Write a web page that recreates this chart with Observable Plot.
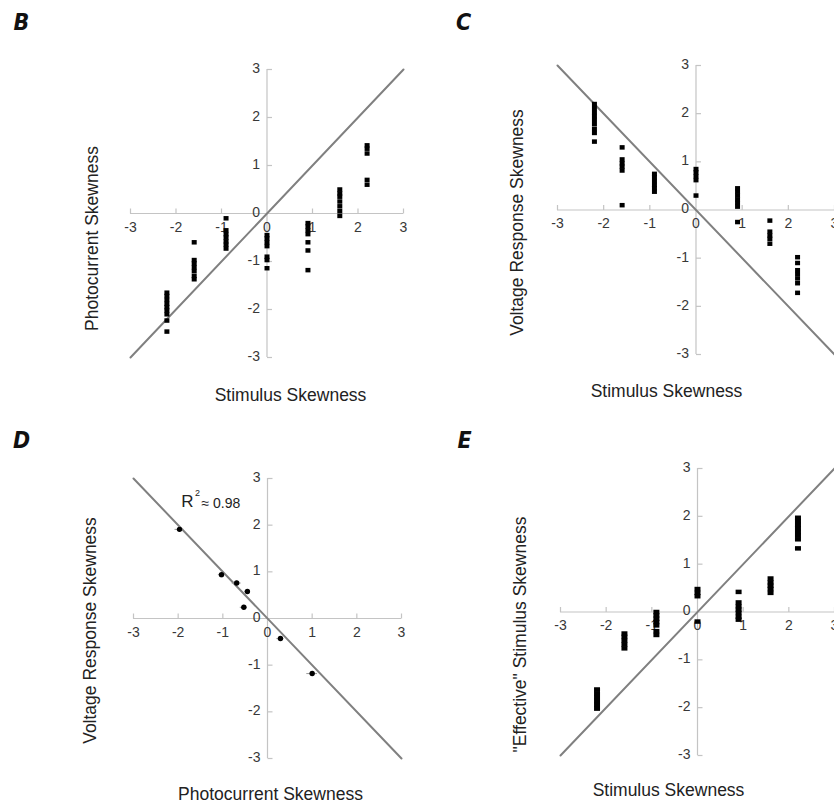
<!DOCTYPE html>
<html><head><meta charset="utf-8">
<script src="https://cdn.jsdelivr.net/npm/d3@7"></script>
<script src="https://cdn.jsdelivr.net/npm/@observablehq/plot@0.6"></script>
<style>
html,body{margin:0;padding:0;background:#fff;overflow:hidden;width:834px;height:806px}
#wrap{position:relative;width:834px;height:806px;overflow:hidden}
.panel{position:absolute}
.panel svg{overflow:visible}
</style></head><body><div id="wrap"></div>
<script>
// ---- data ----
const ticks = [-3, -2, -1, 0, 1, 2, 3];
const tickLabels = ["-3", "-2", "-1", "0", "1", "2", "3"];
const stimX = [-2.2, -1.6, -0.9, 0, 0.9, 1.6, 2.2];
const diagX = [-3, 3];
const diagUp = [-3, 3];
const diagDown = [3, -3];

// Panel B: photocurrent skewness per stimulus skewness
const bY = [
  [-1.65, -1.72, -1.8, -1.88, -1.95, -2.02, -2.1, -2.23, -2.46],
  [-0.6, -0.97, -1.04, -1.12, -1.2, -1.3, -1.37],
  [-0.1, -0.35, -0.43, -0.5, -0.58, -0.65, -0.73],
  [-0.45, -0.52, -0.6, -0.68, -0.9, -0.97, -1.14],
  [-0.2, -0.27, -0.35, -0.43, -0.6, -0.77, -1.18],
  [0.5, 0.42, 0.35, 0.25, 0.15, 0.05, -0.05],
  [1.42, 1.35, 1.25, 0.7, 0.6]
];
// Panel C: voltage response skewness per stimulus skewness
const cY = [
  [2.2, 2.12, 2.03, 1.95, 1.87, 1.78, 1.68, 1.6, 1.42],
  [1.3, 1.05, 0.97, 0.9, 0.82, 0.1],
  [0.75, 0.68, 0.6, 0.52, 0.45, 0.38],
  [0.85, 0.78, 0.7, 0.62, 0.3],
  [0.45, 0.38, 0.3, 0.22, 0.15, 0.07, -0.25],
  [-0.22, -0.45, -0.53, -0.6, -0.7],
  [-0.98, -1.1, -1.25, -1.33, -1.42, -1.52, -1.72]
];
// Panel D: voltage response vs photocurrent skewness (means, errors)
const dX = [-1.97, -1.03, -0.69, -0.45, -0.53, 0.29, 1.0];
const dY = [1.91, 0.94, 0.76, 0.58, 0.24, -0.43, -1.18];
const dXerr = [0.1, 0.07, 0.1, 0.06, 0.08, 0.08, 0.12];
const dYerr = [0.06, 0.07, 0.04, 0.03, 0.04, 0.03, 0.04];
// Panel E: "effective" stimulus skewness per stimulus skewness
const eY = [
  [-1.62, -1.7, -1.78, -1.86, -1.94, -2.02],
  [-0.45, -0.52, -0.6, -0.68, -0.76],
  [0.0, -0.07, -0.14, -0.21, -0.28, -0.4, -0.48],
  [0.48, 0.4, 0.33, -0.2],
  [0.42, 0.2, 0.12, 0.05, -0.02, -0.1, -0.16],
  [0.7, 0.62, 0.55, 0.48, 0.4],
  [1.97, 1.9, 1.82, 1.75, 1.67, 1.6, 1.52, 1.33]
];

// ---- styling ----
const AXIS = "#c4c4c4";
const DIAG = "#808080";
const TICKTXT = "#383838";
const FONT = "Liberation Sans, Arial, sans-serif";
const LETTERFONT = "Liberation Sans Narrow, DejaVu Sans Condensed, Liberation Sans, sans-serif";

const tickUp = {draw(ctx) { ctx.moveTo(0, 0); ctx.lineTo(0, -5); }};
const tickRight = {draw(ctx) { ctx.moveTo(0, 0); ctx.lineTo(5, 0); }};
const sq = (w, h) => ({draw(ctx) { ctx.rect(-w / 2, -h / 2, w, h); }});

const flat = (ys) => stimX.flatMap((x, i) => ys[i].map(y => ({x, y})));

function label(str, at, fx, fy, opts) {
  return Plot.text([str], {
    frameAnchor: "top-left", text: d => d, dx: at[0] - fx, dy: at[1] - fy,
    textAnchor: "middle", lineAnchor: "middle", fontFamily: FONT, fill: "#222", ...opts
  });
}

function panel(cfg) {
  const {left, top, width, height, mL, mR, mT, mB, marks, letter, letterAt, yTitle, yTitleAt, xTitle, xTitleAt, extra} = cfg;
  const fx = left + mL, fy = top + mT; // page position of frame top-left
  const axisMarks = [
    Plot.ruleY([0], {x1: -3, x2: 3, stroke: AXIS, strokeWidth: 1.2}),
    Plot.ruleX([0], {y1: -3, y2: 3, stroke: AXIS, strokeWidth: 1.2}),
    Plot.dot(ticks.filter(d => d !== 0), {x: d => d, y: 0, symbol: tickUp, stroke: AXIS, fill: "none", strokeWidth: 1.2}),
    Plot.dot(ticks.filter(d => d !== 0), {x: 0, y: d => d, symbol: tickRight, stroke: AXIS, fill: "none", strokeWidth: 1.2}),
    Plot.text(ticks, {x: d => d, y: 0, text: (d, i) => tickLabels[i], dy: 14, fill: TICKTXT, fontSize: 14, fontFamily: FONT}),
    Plot.text(ticks, {x: 0, y: d => d, text: (d, i) => tickLabels[i], dx: -7, dy: -1, textAnchor: "end", fill: TICKTXT, fontSize: 14, fontFamily: FONT})
  ];
  const labelMarks = [
    label(letter, letterAt, fx, fy, {fontSize: 23, fontWeight: "bold", fontStyle: "italic", fontFamily: LETTERFONT, fill: "#111"}),
    label(yTitle, yTitleAt, fx, fy, {rotate: -90, fontSize: 17.5}),
    label(xTitle, xTitleAt, fx, fy, {fontSize: 17.5}),
    ...(extra ? extra(fx, fy) : [])
  ];
  const p = Plot.plot({
    width, height,
    marginLeft: mL, marginRight: mR, marginTop: mT, marginBottom: mB,
    x: {domain: [-3, 3], axis: null},
    y: {domain: [-3, 3], axis: null},
    style: {background: "transparent", overflow: "visible"},
    marks: [...axisMarks, ...marks, ...labelMarks]
  });
  const div = document.createElement("div");
  div.className = "panel";
  div.style.left = left + "px";
  div.style.top = top + "px";
  div.appendChild(p);
  document.getElementById("wrap").appendChild(div);
}

const diagLine = (ys) => Plot.line(diagX.map((x, i) => ({x, y: ys[i]})), {x: "x", y: "y", stroke: DIAG, strokeWidth: 2});
const squares = (ys, w, h) => Plot.dot(flat(ys), {x: "x", y: "y", symbol: sq(w, h), fill: "#000", stroke: "none"});

// B
panel({
  left: 0, top: 0, width: 417, height: 400, mL: 130, mR: 14, mT: 69, mB: 43,
  marks: [diagLine(diagUp), squares(bY, 5, 4.5)],
  letter: "B", letterAt: [21, 22],
  yTitle: "Photocurrent Skewness", yTitleAt: [92, 238],
  xTitle: "Stimulus Skewness", xTitleAt: [290, 395]
});
// C
panel({
  left: 417, top: 0, width: 417, height: 400, mL: 140, mR: 0, mT: 65, mB: 46,
  marks: [diagLine(diagDown), squares(cY, 5, 4.5)],
  letter: "C", letterAt: [463, 22],
  yTitle: "Voltage Response Skewness", yTitleAt: [517, 222],
  xTitle: "Stimulus Skewness", xTitleAt: [666, 391]
});
// D
const dData = dX.map((x, i) => ({x, y: dY[i], xe: dXerr[i], ye: dYerr[i]}));
panel({
  left: 0, top: 400, width: 417, height: 406, mL: 133, mR: 16, mT: 78, mB: 48,
  marks: [
    diagLine(diagDown),
    Plot.ruleY(dData, {y: "y", x1: d => d.x - d.xe, x2: d => d.x + d.xe, stroke: "#999", strokeWidth: 1}),
    Plot.ruleX(dData, {x: "x", y1: d => d.y - d.ye, y2: d => d.y + d.ye, stroke: "#999", strokeWidth: 1}),
    Plot.dot(dData, {x: "x", y: "y", r: 2.7, fill: "#000", stroke: "none"})
  ],
  extra: (fx, fy) => [
    label("R", [187, 501], fx, fy, {fontSize: 17}),
    label("2", [197, 493], fx, fy, {fontSize: 9}),
    label("≈ 0.98", [201, 503], fx, fy, {fontSize: 14, textAnchor: "start"})
  ],
  letter: "D", letterAt: [21, 440],
  yTitle: "Voltage Response Skewness", yTitleAt: [90, 630],
  xTitle: "Photocurrent Skewness", xTitleAt: [270, 794]
});
// E
panel({
  left: 417, top: 400, width: 417, height: 406, mL: 143, mR: 0, mT: 68, mB: 51,
  marks: [diagLine(diagUp), squares(eY, 6, 4.5)],
  letter: "E", letterAt: [464, 440],
  yTitle: "\"Effective\" Stimulus Skewness", yTitleAt: [520, 634],
  xTitle: "Stimulus Skewness", xTitleAt: [668, 790]
});
</script></body></html>
